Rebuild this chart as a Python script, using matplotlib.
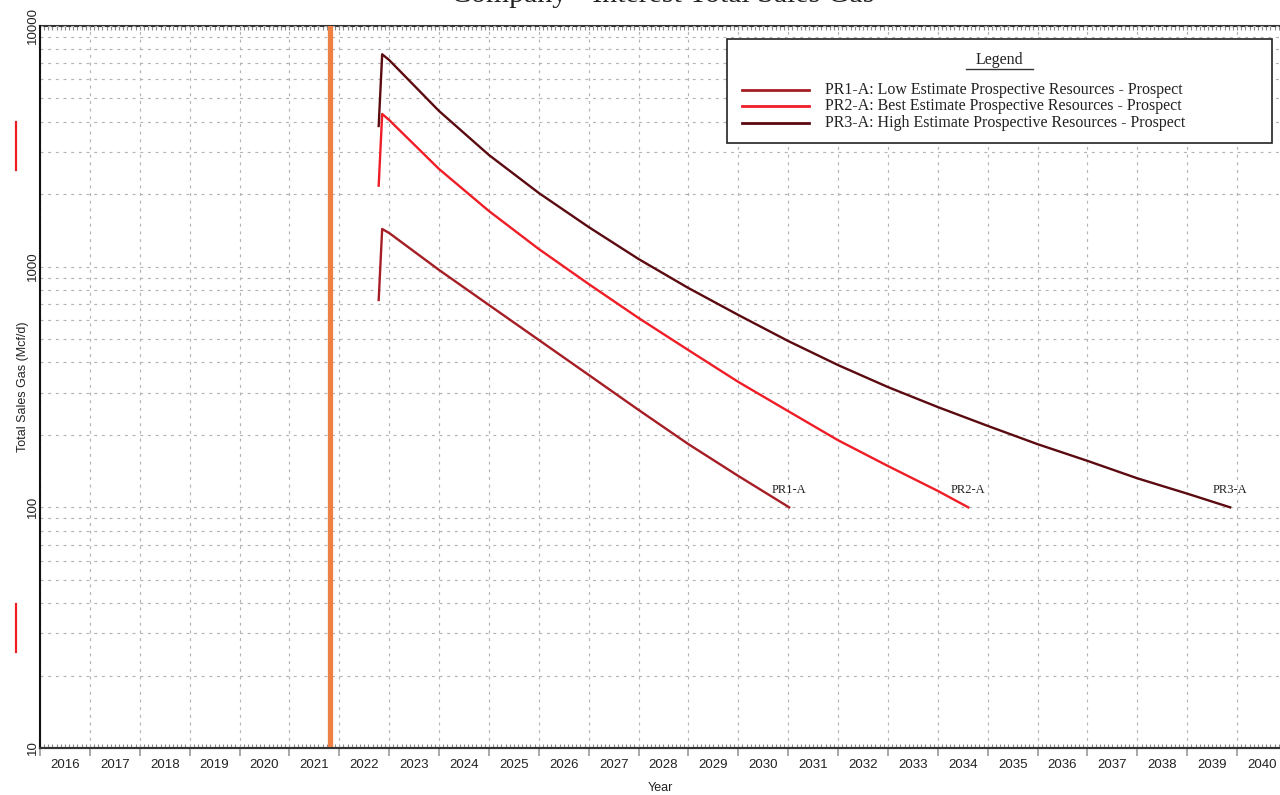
import matplotlib
matplotlib.use("Agg")
import matplotlib.pyplot as plt
import matplotlib.ticker as mticker
from matplotlib.lines import Line2D
from matplotlib.patches import Rectangle
import numpy as np

W, H = 1280, 795
SERIF = ["Liberation Serif", "DejaVu Serif"]
SANS = ["Liberation Sans", "DejaVu Sans"]

title = "Company - Interest Total Sales Gas"
y_label = "Total Sales Gas (Mcf/d)"
x_label = "Year"

series_names = ["PR1-A", "PR2-A", "PR3-A"]
legend_labels = [
    "PR1-A: Low Estimate Prospective Resources - Prospect",
    "PR2-A: Best Estimate Prospective Resources - Prospect",
    "PR3-A: High Estimate Prospective Resources - Prospect",
]
series_colors = ["#a51d25", "#ee1d26", "#5b0a10"]

# forecast rates, Mcf/d, by decimal year
pr1_years = [2022.79, 2022.86, 2023, 2024, 2025, 2026, 2027, 2028, 2029, 2030, 2031.02]
pr1_rates = [727, 1434, 1380, 969, 693, 496, 355, 254, 183, 135, 100]

pr2_years = [2022.79, 2022.86, 2023, 2024, 2025, 2026, 2027, 2028, 2029, 2030,
             2031, 2032, 2033, 2034, 2034.61]
pr2_rates = [2170, 4309, 4068, 2546, 1703, 1184, 847, 612, 450, 332,
             251, 190, 148.5, 117, 100]

pr3_years = [2022.79, 2022.86, 2023, 2024, 2025, 2026, 2027, 2028, 2029, 2030,
             2031, 2032, 2033, 2034, 2035, 2036, 2037, 2038, 2039, 2039.86]
pr3_rates = [3841, 7628, 7222, 4434, 2911, 2024, 1461, 1076, 815, 630,
             491, 390, 316, 261, 218, 183, 156, 132, 114, 100]

series_years = [pr1_years, pr2_years, pr3_years]
series_rates = [pr1_rates, pr2_rates, pr3_rates]

current_date = 2021.82
year_labels = list(range(2016, 2041))
x_min, x_max = 2016.0, 2040.86
y_min, y_max = 10, 10000

fig = plt.figure(figsize=(W / 100, H / 100), dpi=100)
ax = fig.add_axes([40 / W, 1 - 748 / H, 1 - 40 / W, (748 - 26) / H])
ax.set_xlim(x_min, x_max)
ax.set_yscale("log")
ax.set_ylim(y_min, y_max)

grid_kw = dict(color="#b4b4b4", linewidth=0.85, dashes=(2.5, 4))
ax.xaxis.grid(True, which="major", **grid_kw)
ax.yaxis.grid(True, which="both", **grid_kw)
ax.set_axisbelow(True)

# year boundaries as major ticks, year names centred between them
ax.xaxis.set_major_locator(mticker.FixedLocator(year_labels))
ax.xaxis.set_major_formatter(mticker.NullFormatter())
ax.xaxis.set_minor_locator(mticker.FixedLocator([y + 0.5 for y in year_labels]))
ax.xaxis.set_minor_formatter(mticker.FixedFormatter([str(y) for y in year_labels]))
ax.tick_params(axis="x", which="major", direction="out", length=6, width=1.2, color="#9a9a9a")
ax.tick_params(axis="x", which="minor", length=0, pad=8, labelsize=9.5, labelcolor="#222222")

ax.yaxis.set_major_locator(mticker.LogLocator(base=10))
ax.yaxis.set_major_formatter(mticker.FuncFormatter(lambda v, p: f"{v:g}"))
ax.yaxis.set_minor_locator(mticker.LogLocator(base=10, subs=np.arange(2, 10)))
ax.yaxis.set_minor_formatter(mticker.NullFormatter())
ax.tick_params(axis="y", which="both", length=0, pad=0.5, labelsize=9.5, labelcolor="#222222")
for lbl in ax.get_yticklabels():
    lbl.set_rotation(90)
    lbl.set_va("center")

for lbl in ax.get_xticklabels(minor=True) + ax.get_yticklabels():
    lbl.set_fontfamily(SANS)

# monthly ticks along the top and bottom edges
months = np.arange(x_min, x_max, 1 / 12)
for where in ("bottom", "top"):
    sec = ax.secondary_xaxis(where)
    sec.set_xticks(months)
    sec.tick_params(direction="in", length=3, width=0.8, color="#8a8a8a",
                    labelbottom=False, labeltop=False)
    sec.spines[where].set_color("#333333")
    sec.spines[where].set_linewidth(1.5)

for side in ("top", "right"):
    ax.spines[side].set_visible(False)
ax.spines["left"].set_color("#111111")
ax.spines["left"].set_linewidth(1.5)
ax.spines["bottom"].set_color("#333333")
ax.spines["bottom"].set_linewidth(1.5)

ax.set_ylabel(y_label, fontsize=9, fontfamily=SANS, color="#222222", labelpad=-1)
ax.set_xlabel(x_label, fontsize=9, fontfamily=SANS, color="#222222", labelpad=8)

# current date marker
ax.axvline(current_date, color="#ef8043", linewidth=3.8, zorder=2)

for name, yrs, rates, col in zip(series_names, series_years, series_rates, series_colors):
    ax.plot(yrs, rates, color=col, linewidth=1.7, zorder=3, solid_joinstyle="round")
    ax.annotate(name, (yrs[-1], rates[-1]), xytext=(0, 8), textcoords="offset points",
                ha="center", va="bottom", fontsize=9, fontfamily=SERIF, color="#222222")

# legend panel
def fx(px):
    return px / W

def fy(py):
    return 1 - py / H

fig.add_artist(Rectangle((fx(727), fy(143)), fx(1272) - fx(727), fy(39) - fy(143),
                         transform=fig.transFigure, facecolor="white",
                         edgecolor="#222222", linewidth=1.2, zorder=5))
fig.text(fx(999), fy(60), "Legend", ha="center", va="center", fontsize=11.5,
         fontfamily=SERIF, color="#222222", zorder=6)
fig.add_artist(Line2D([fx(966), fx(1033)], [fy(69), fy(69)], transform=fig.transFigure,
                      color="#333333", linewidth=1.0, zorder=6))
for i, (lab, col) in enumerate(zip(legend_labels, series_colors)):
    yy = 89.5 + i * 16.7
    fig.add_artist(Line2D([fx(742), fx(809)], [fy(yy), fy(yy)], transform=fig.transFigure,
                          color=col, linewidth=2.0, zorder=6))
    fig.text(fx(825), fy(yy), lab, ha="left", va="center", fontsize=11.5,
             fontfamily=SERIF, color="#222222", zorder=6)

# marks in the left margin
for top, bot in ((122, 170), (604, 652)):
    fig.add_artist(Line2D([fx(15.5), fx(15.5)], [fy(top), fy(bot)], transform=fig.transFigure,
                          color="#ee1d26", linewidth=1.6))

fig.text(fx(663), fy(1.5), title, ha="center", va="baseline", fontsize=21.5,
         fontfamily=SERIF, color="#222222")

fig.savefig("out.png", dpi=100)
